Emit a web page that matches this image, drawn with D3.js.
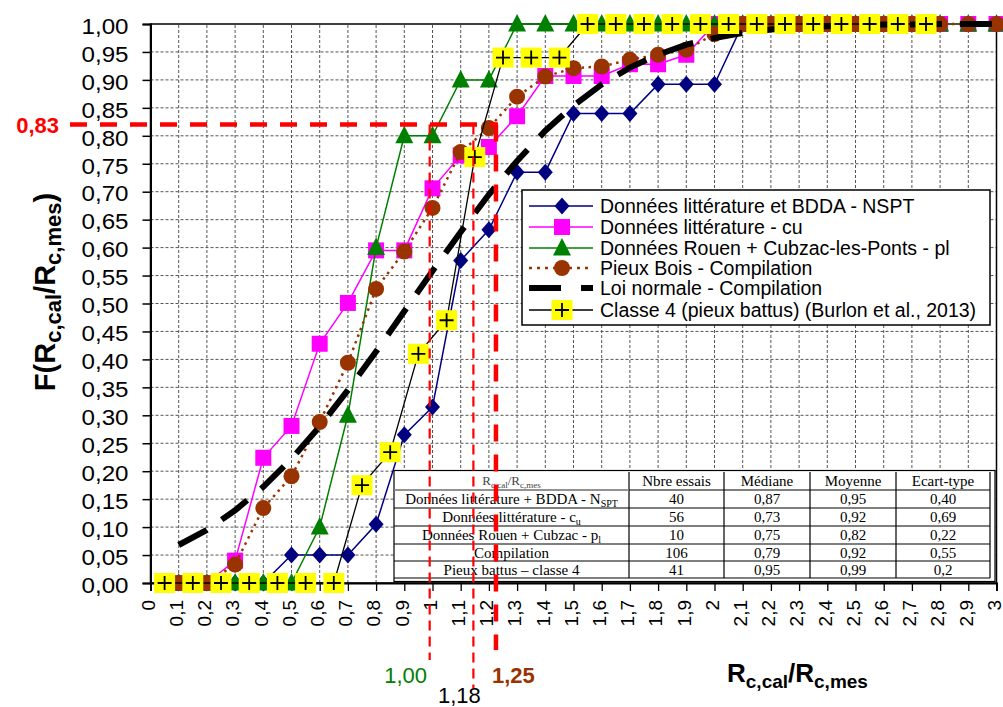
<!DOCTYPE html>
<html><head><meta charset="utf-8">
<script src="https://cdn.jsdelivr.net/npm/d3@7"></script>
<style>body{margin:0;background:#fff}svg{display:block}</style>
</head><body><svg id="c" width="1003" height="707"></svg>
<script>
// ---------- data ----------
const xTickValues = [0,0.1,0.2,0.3,0.4,0.5,0.6,0.7,0.8,0.9,1,1.1,1.2,1.3,1.4,1.5,1.6,1.7,1.8,1.9,2,2.1,2.2,2.3,2.4,2.5,2.6,2.7,2.8,2.9,3];
const xTickLabels = ["0","0,1","0,2","0,3","0,4","0,5","0,6","0,7","0,8","0,9","1","1,1","1,2","1,3","1,4","1,5","1,6","1,7","1,8","1,9","2","2,1","2,2","2,3","2,4","2,5","2,6","2,7","2,8","2,9","3"];
const yTickValues = [0,0.05,0.1,0.15,0.2,0.25,0.3,0.35,0.4,0.45,0.5,0.55,0.6,0.65,0.7,0.75,0.8,0.85,0.9,0.95,1];
const yTickLabels = ["0,00","0,05","0,10","0,15","0,20","0,25","0,30","0,35","0,40","0,45","0,50","0,55","0,60","0,65","0,70","0,75","0,80","0,85","0,90","0,95","1,00"];

const xSteps = [0.1,0.2,0.3,0.4,0.5,0.6,0.7,0.8,0.9,1.0,1.1,1.2,1.3,1.4,1.5,1.6,1.7,1.8,1.9,2.0,2.1,2.2,2.3,2.4,2.5,2.6,2.7,2.8,2.9,3.0];
const xCentres = [0.05,0.15,0.25,0.35,0.45,0.55,0.65,0.75,0.85,0.95,1.05,1.15,1.25,1.35,1.45,1.55,1.65,1.75,1.85,1.95,2.05,2.15,2.25,2.35,2.45,2.55,2.65,2.75];

const nsptValues   = [0,0,0,0,0.05,0.05,0.05,0.105,0.265,0.315,0.577,0.632,0.735,0.735,0.84,0.84,0.84,0.892,0.892,0.892,1,1,1,1,1,1,1,1,1,1];
const cuValues     = [0,0,0.04,0.224,0.281,0.428,0.501,0.595,0.595,0.706,0.765,0.78,0.835,0.907,0.907,0.907,0.928,0.928,0.945,1,1,1,1,1,1,1,1,1,1,1];
const plValues     = [0,0,0,0,0,0.1,0.3,0.6,0.8,0.8,0.9,0.9,1,1,1,1,1,1,1,1,1,1,1,1,1,1,1,1,1,1];
const boisValues   = [0,0,0.033,0.134,0.191,0.288,0.394,0.526,0.593,0.671,0.771,0.814,0.87,0.906,0.921,0.924,0.936,0.945,0.954,0.982,1,1,1,1,1,1,1,1,1,1];
const normalValues = [0.068,0.095,0.13,0.172,0.222,0.28,0.345,0.414,0.486,0.558,0.628,0.695,0.755,0.809,0.854,0.892,0.922,0.945,0.963,0.975,0.984,0.99,0.994,0.996,0.998,0.999,0.999,1,1,1];
const classe4Values = [0,0,0,0,0,0,0,0.175,0.234,0.41,0.47,0.762,0.94,0.94,0.94,1,1,1,1,1,1,1,1,1,1,1,1,1];

const seriesNames = [
  "Données littérature et BDDA - NSPT",
  "Données littérature - cu",
  "Données Rouen + Cubzac-les-Ponts - pl",
  "Pieux Bois - Compilation",
  "Loi normale - Compilation",
  "Classe 4 (pieux battus) (Burlon et al., 2013)"
];

const tableColumns = ["Nbre essais","Médiane","Moyenne","Ecart-type"];
const tableRowLabels = [
  [["Données littérature + BDDA - N",0],["SPT",1]],
  [["Données littérature - c",0],["u",1]],
  [["Données Rouen + Cubzac - p",0],["l",1]],
  [["Compilation",0]],
  [["Pieux battus – classe 4",0]]
];
const tableCounts  = ["40","56","10","106","41"];
const tableMedians = ["0,87","0,73","0,75","0,79","0,95"];
const tableMeans   = ["0,95","0,92","0,82","0,92","0,99"];
const tableStd     = ["0,40","0,69","0,22","0,55","0,2"];

const refLevel = 0.82;          // horizontal red line ("0,83")
const refX = [0.99, 1.145, 1.225]; // vertical red lines ("1,00", "1,18", "1,25")

// ---------- chart ----------
const svg = d3.select("#c");
const x = d3.scaleLinear().domain([0,3]).range([150.5,996.5]);
const y = d3.scaleLinear().domain([0,1]).range([583,24]);
const F = "Liberation Sans, Arial, sans-serif";

// grid
const g = svg.append("g");
g.selectAll(".gx").data(xTickValues.slice(1,-1)).join("line")
  .attr("x1",d=>x(d)).attr("x2",d=>x(d)).attr("y1",y(0)).attr("y2",y(1))
  .attr("stroke","#555").attr("stroke-width",1).attr("stroke-dasharray","3,2");
g.selectAll(".gy").data(yTickValues.slice(1,-1)).join("line")
  .attr("y1",d=>y(d)).attr("y2",d=>y(d)).attr("x1",x(0)).attr("x2",x(3))
  .attr("stroke","#555").attr("stroke-width",1).attr("stroke-dasharray","3,2");

// frame
svg.append("rect").attr("x",x(0)).attr("y",y(1)).attr("width",x(3)-x(0)).attr("height",y(0)-y(1))
  .attr("fill","none").attr("stroke","#000").attr("stroke-width",1.5);

// axes
const yAxis = d3.axisLeft(y).tickValues(yTickValues).tickFormat((d,i)=>yTickLabels[i]).tickSize(8).tickPadding(14);
const ya = svg.append("g").attr("transform",`translate(${x(0)},0)`).call(yAxis);
ya.select(".domain").attr("stroke-width",2);
ya.selectAll(".tick line").attr("stroke-width",1.5);
ya.selectAll("text").attr("font-family",F).attr("font-size",22).attr("fill","#000")
  .attr("dy","0.42em").attr("textLength",47).attr("lengthAdjust","spacingAndGlyphs");

const xAxis = d3.axisBottom(x).tickValues(xTickValues).tickFormat((d,i)=>xTickLabels[i]).tickSize(8);
const xa = svg.append("g").attr("transform",`translate(0,${y(0)})`).call(xAxis);
xa.select(".domain").attr("stroke-width",2);
xa.selectAll(".tick line").attr("stroke-width",1.3);
xa.selectAll("text").attr("font-family",F).attr("font-size",19).attr("fill","#000")
  .attr("text-anchor","end").attr("transform","rotate(-90)")
  .attr("x",-17).attr("y",0).attr("dy","0.2em");

// series
function lineOf(xs, vs){ return d3.line().x((d,i)=>x(xs[i])).y(d=>y(d))(vs); }
const S = svg.append("g");

// marker helpers
function diamond(sel,cx,cy){ sel.append("path").attr("d",`M${cx},${cy-8.5}L${cx+7.5},${cy}L${cx},${cy+8.5}L${cx-7.5},${cy}Z`).attr("fill","#000080"); }
function square(sel,cx,cy){ sel.append("rect").attr("x",cx-8).attr("y",cy-8).attr("width",16).attr("height",16).attr("fill","#ff00ff"); }
function triangle(sel,cx,cy){ sel.append("path").attr("d",`M${cx},${cy-10}L${cx+9},${cy+7.5}L${cx-9},${cy+7.5}Z`).attr("fill","#008000"); }
function circle(sel,cx,cy){ sel.append("circle").attr("cx",cx).attr("cy",cy).attr("r",8).attr("fill","#993300"); }
function plusBox(sel,cx,cy){
  sel.append("rect").attr("x",cx-10.5).attr("y",cy-10).attr("width",21).attr("height",20).attr("fill","#ffff00");
  sel.append("path").attr("d",`M${cx-7},${cy}H${cx+7}M${cx},${cy-7}V${cy+7}`).attr("stroke","#000").attr("stroke-width",1.8);
}

// blue
S.append("path").attr("d",lineOf(xSteps,nsptValues)).attr("fill","none").attr("stroke","#000080").attr("stroke-width",1.5);
nsptValues.forEach((v,i)=>diamond(S,x(xSteps[i]),y(v)));
// pink
S.append("path").attr("d",lineOf(xSteps,cuValues)).attr("fill","none").attr("stroke","#ff00ff").attr("stroke-width",1.5);
cuValues.forEach((v,i)=>square(S,x(xSteps[i]),y(v)));
// green
S.append("path").attr("d",lineOf(xSteps,plValues)).attr("fill","none").attr("stroke","#008000").attr("stroke-width",1.5);
plValues.forEach((v,i)=>triangle(S,x(xSteps[i]),y(v)));
// brown
S.append("path").attr("d",lineOf(xSteps,boisValues)).attr("fill","none").attr("stroke","#993300").attr("stroke-width",2.5).attr("stroke-dasharray","2.5,4.5");
boisValues.forEach((v,i)=>circle(S,x(xSteps[i]),y(v)));
// normal law
S.append("path").attr("d",lineOf(xSteps,normalValues)).attr("fill","none").attr("stroke","#000").attr("stroke-width",6).attr("stroke-dasharray","32,18");
// classe 4
S.append("path").attr("d",lineOf(xCentres,classe4Values)).attr("fill","none").attr("stroke","#000").attr("stroke-width",1.3);
classe4Values.forEach((v,i)=>plusBox(S,x(xCentres[i]),y(v)));

// table
const colX = [394,629,724,810,896,990];
const rowY = [472,490,508,526,544,561,578];
const T = svg.append("g").attr("font-family","Liberation Serif, Times New Roman, serif").attr("font-size",15).attr("fill","#000");
T.append("rect").attr("x",394).attr("y",470.5).attr("width",601).attr("height",111).attr("fill","#fff").attr("stroke","#000").attr("stroke-width",1.2);
rowY.slice(1).forEach((ry)=>{
  T.append("line").attr("x1",394).attr("x2",990).attr("y1",ry).attr("y2",ry).attr("stroke","#000").attr("stroke-width",1.2);
});
colX.slice(1).forEach(cx=>{
  T.append("line").attr("x1",cx).attr("x2",cx).attr("y1",rowY[0]).attr("y2",rowY[6]).attr("stroke","#000").attr("stroke-width",1.2);
});
T.append("line").attr("x1",394).attr("x2",629).attr("y1",rowY[1]).attr("y2",rowY[1]).attr("stroke","#999").attr("stroke-width",1.6);
function richText(sel, parts, fs, subFs){
  parts.forEach(([t,sub],k)=>{
    const prevSub = k>0 && parts[k-1][1];
    const ts = sel.append("tspan").text(t).attr("font-size",sub?subFs:fs);
    if(sub && !prevSub) ts.attr("dy",fs*0.22);
    if(!sub && prevSub) ts.attr("dy",-fs*0.22);
  });
}
const colC = colX.slice(0,-1).map((c,i)=>(c+colX[i+1])/2);
// header
const h0 = T.append("text").attr("x",colC[0]).attr("y",(rowY[0]+rowY[1])/2+4).attr("text-anchor","middle").attr("fill","#444");
richText(h0,[["R",0],["c,cal",1],["/R",0],["c,mes",1]],13,9);
tableColumns.forEach((c,i)=>T.append("text").attr("x",colC[i+1]).attr("y",(rowY[0]+rowY[1])/2+5).attr("text-anchor","middle").text(c));
tableRowLabels.forEach((parts,r)=>{
  const cy = (rowY[r+1]+rowY[r+2])/2+5;
  const t = T.append("text").attr("x",colC[0]).attr("y",cy).attr("text-anchor","middle");
  richText(t,parts,15,10);
  [tableCounts,tableMedians,tableMeans,tableStd].forEach((arr,c)=>{
    T.append("text").attr("x",colC[c+1]).attr("y",cy).attr("text-anchor","middle").text(arr[r]);
  });
});

// red reference lines
const R = svg.append("g");
R.append("line").attr("x1",70).attr("x2",x(refX[2])+2).attr("y1",y(refLevel)).attr("y2",y(refLevel))
  .attr("stroke","#ff0000").attr("stroke-width",4.5).attr("stroke-dasharray","17,13");
R.append("line").attr("x1",x(refX[0])).attr("x2",x(refX[0])).attr("y1",y(refLevel)).attr("y2",660)
  .attr("stroke","#ff0000").attr("stroke-width",2.2).attr("stroke-dasharray","10,6");
R.append("line").attr("x1",x(refX[1])).attr("x2",x(refX[1])).attr("y1",y(refLevel)).attr("y2",688)
  .attr("stroke","#ff0000").attr("stroke-width",2.2).attr("stroke-dasharray","10,6");
R.append("line").attr("x1",x(refX[2])).attr("x2",x(refX[2])).attr("y1",y(refLevel)).attr("y2",650)
  .attr("stroke","#ff0000").attr("stroke-width",4.5).attr("stroke-dasharray","17,13");

svg.append("text").attr("x",59).attr("y",y(refLevel)+8).attr("text-anchor","end")
  .attr("font-family",F).attr("font-size",22).attr("font-weight","bold").attr("fill","#ff0000").text("0,83");
svg.append("text").attr("x",427).attr("y",683).attr("text-anchor","end")
  .attr("font-family",F).attr("font-size",22).attr("fill","#008000").text("1,00");
svg.append("text").attr("x",438).attr("y",703).attr("text-anchor","start")
  .attr("font-family",F).attr("font-size",22).attr("fill","#000").text("1,18");
svg.append("text").attr("x",492).attr("y",683).attr("text-anchor","start")
  .attr("font-family",F).attr("font-size",22).attr("font-weight","bold").attr("fill","#993300").text("1,25");

// legend
const L = svg.append("g").attr("font-family",F).attr("font-size",19.5).attr("fill","#000");
L.append("rect").attr("x",522).attr("y",190).attr("width",468).attr("height",135).attr("fill","#fff").attr("stroke","#000").attr("stroke-width",1.5);
const legY = [206,227,248,268,288,310];
const lx1 = 529, lx2 = 593, lmx = 562;
L.append("line").attr("x1",lx1).attr("x2",lx2).attr("y1",legY[0]).attr("y2",legY[0]).attr("stroke","#000080").attr("stroke-width",1.5);
diamond(L,lmx,legY[0]);
L.append("line").attr("x1",lx1).attr("x2",lx2).attr("y1",legY[1]).attr("y2",legY[1]).attr("stroke","#ff00ff").attr("stroke-width",1.5);
square(L,lmx,legY[1]);
L.append("line").attr("x1",lx1).attr("x2",lx2).attr("y1",legY[2]).attr("y2",legY[2]).attr("stroke","#008000").attr("stroke-width",1.5);
triangle(L,lmx,legY[2]);
L.append("line").attr("x1",lx1).attr("x2",lx2).attr("y1",legY[3]).attr("y2",legY[3]).attr("stroke","#993300").attr("stroke-width",2.5).attr("stroke-dasharray","3,5");
circle(L,lmx,legY[3]);
L.append("line").attr("x1",lx1).attr("x2",lx2).attr("y1",legY[4]).attr("y2",legY[4]).attr("stroke","#000").attr("stroke-width",6).attr("stroke-dasharray","32,20");
L.append("line").attr("x1",lx1).attr("x2",lx2).attr("y1",legY[5]).attr("y2",legY[5]).attr("stroke","#000").attr("stroke-width",1.3);
plusBox(L,lmx,legY[5]);
seriesNames.forEach((n,i)=>L.append("text").attr("x",600).attr("y",legY[i]).attr("dy","0.36em").text(n));

// axis titles
const yt = svg.append("text").attr("transform","translate(55,292) rotate(-90)").attr("text-anchor","middle")
  .attr("font-family",F).attr("font-weight","bold").attr("fill","#000");
richText(yt,[["F(R",0],["c,cal",1],["/R",0],["c,mes",1],[")",0]],29,22);
const xt = svg.append("text").attr("x",727).attr("y",682).attr("font-family",F).attr("font-weight","bold").attr("fill","#000");
richText(xt,[["R",0],["c,cal",1],["/R",0],["c,mes",1]],26,19);
</script></body></html>
